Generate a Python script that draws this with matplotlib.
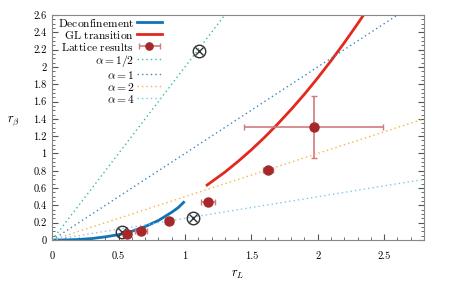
import matplotlib
matplotlib.use('Agg')
import matplotlib.pyplot as plt
from matplotlib.ticker import MultipleLocator, FormatStrFormatter
from matplotlib.container import ErrorbarContainer
from matplotlib.legend_handler import HandlerErrorbar

plt.rcParams['font.family'] = ['cmr10', 'DejaVu Serif']
plt.rcParams['mathtext.fontset'] = 'cm'
plt.rcParams['axes.formatter.use_mathtext'] = True
plt.rcParams['font.size'] = 7.5

# Deconfinement curve
deconf_rL = [0.0, 0.1, 0.2, 0.3, 0.4, 0.5, 0.6, 0.7, 0.8, 0.9, 0.95, 0.99]
deconf_rb = [0.0, 0.001, 0.006, 0.017, 0.036, 0.062, 0.1, 0.155, 0.225, 0.32, 0.375, 0.435]

# GL transition curve
gl_rL = [1.167, 1.3, 1.4, 1.5, 1.6, 1.7, 1.8, 1.9, 2.0, 2.1, 2.2, 2.3, 2.345]
gl_rb = [0.635, 0.783, 0.908, 1.042, 1.187, 1.343, 1.509, 1.685, 1.873, 2.071, 2.279, 2.498, 2.6]

# Lattice results
lat_rL = [0.566, 0.666, 0.88, 1.174, 1.626, 1.97]
lat_rb = [0.07, 0.104, 0.215, 0.435, 0.81, 1.306]
lat_xerr = [0.03, 0.045, 0.03, 0.053, 0.04, 0.525]
lat_yerr = [0.0, 0.0, 0.0, 0.0, 0.0, 0.355]

# circled-cross markers
cross_rL = [0.528, 1.058, 1.103]
cross_rb = [0.096, 0.258, 2.19]

# alpha lines rb = rL / alpha
alphas = [0.5, 1, 2, 4]
alpha_labels = [r'$\alpha = 1/2$', r'$\alpha = 1$', r'$\alpha = 2$', r'$\alpha = 4$']
alpha_colors = ['#3dba92', '#3b84c6', '#f4b446', '#7fc6ec']
line_rL = [0.0, 2.8]

fig, ax = plt.subplots(figsize=(4.5, 2.84), dpi=100)
fig.subplots_adjust(left=0.116, right=0.942, bottom=0.155, top=0.947)

h_dec, = ax.plot(deconf_rL, deconf_rb, color='#1172b6', lw=2,
                 label=r'$\mathrm{Deconfinement}$')
h_gl, = ax.plot(gl_rL, gl_rb, color='#e3281e', lw=2,
                label=r'$\mathrm{GL\ transition}$')
# vertical error bars first (only the last point has one)
ax.errorbar(lat_rL, lat_rb, yerr=lat_yerr, fmt='none', ecolor='#d07a7e',
            elinewidth=1.2, capsize=2.5)
h_lat = ax.errorbar(lat_rL, lat_rb, xerr=lat_xerr, fmt='o',
                    color='#a5282b', ms=6.5, ecolor='#d07a7e', elinewidth=1.2,
                    capsize=2.5, label=r'$\mathrm{Lattice\ results}$')
h_al = []
for a, lab, c in zip(alphas, alpha_labels, alpha_colors):
    h, = ax.plot(line_rL, [v / a for v in line_rL], color=c, lw=1,
                 ls=(0, (1, 2.2)), label=lab)
    h_al.append(h)

ax.plot(cross_rL, cross_rb, 'o', ms=9, mfc='none', mec='#333333', mew=1)
ax.plot(cross_rL, cross_rb, 'x', ms=6, mec='#333333', mew=1)

ax.set_xlim(0, 2.8)
ax.set_ylim(0, 2.6)
ax.xaxis.set_major_locator(MultipleLocator(0.5))
ax.xaxis.set_minor_locator(MultipleLocator(0.1))
ax.yaxis.set_major_locator(MultipleLocator(0.2))
ax.yaxis.set_minor_locator(MultipleLocator(0.05))
ax.xaxis.set_major_formatter(FormatStrFormatter('%g'))
ax.yaxis.set_major_formatter(FormatStrFormatter('%g'))
ax.tick_params(which='both', direction='in', right=True, top=False, color='#555555')
ax.tick_params(which='major', length=4)
ax.tick_params(which='minor', length=2)
ax.tick_params(axis='x', which='major', pad=8)
ax.tick_params(axis='y', which='major', pad=4)
for s in ax.spines.values():
    s.set_color('#888888')

ax.set_xlabel(r'$r_L$', fontsize=9)
ax.set_ylabel(r'$r_\beta$', fontsize=9, rotation=0, labelpad=14)
ax.xaxis.set_label_coords(0.5, -0.125)

ax.legend(handles=[h_dec, h_gl, h_lat] + h_al, loc='upper right', frameon=False,
          markerfirst=False, fontsize=8.3, labelspacing=0.0, handlelength=2.2,
          handleheight=0.92, handletextpad=0.2, borderaxespad=0.0, borderpad=0.15,
          markerscale=0.8, bbox_to_anchor=(0.30, 1.0),
          handler_map={ErrorbarContainer: HandlerErrorbar(xerr_size=0.9)})

fig.savefig('out.png', dpi=100)
